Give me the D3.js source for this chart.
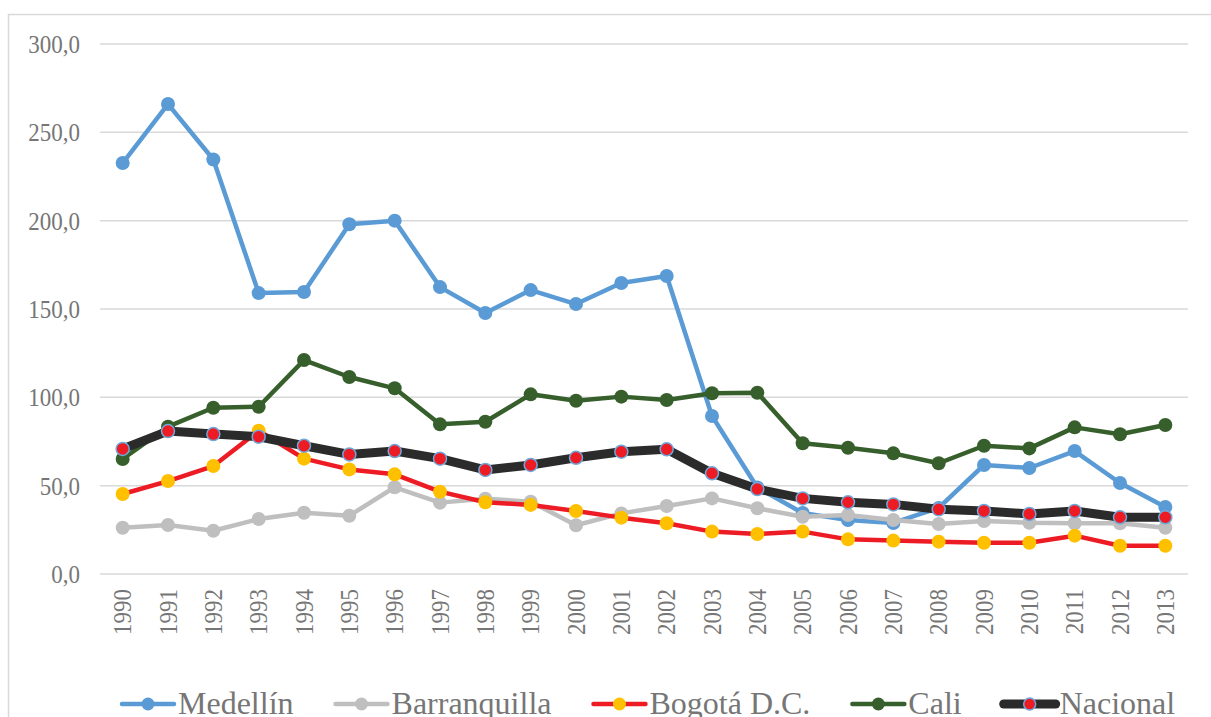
<!DOCTYPE html>
<html>
<head>
<meta charset="utf-8">
<script src="https://cdn.jsdelivr.net/npm/d3@7"></script>
<style>
  body { margin: 0; background: #fff; }
  svg { display: block; }
  svg text { font-family: "Liberation Serif", "Times New Roman", serif; }
</style>
</head>
<body>
<div id="chart"></div>
<script>
const w = 1211;
const h = 717;

const years = [1990, 1991, 1992, 1993, 1994, 1995, 1996, 1997, 1998, 1999, 2000, 2001,
               2002, 2003, 2004, 2005, 2006, 2007, 2008, 2009, 2010, 2011, 2012, 2013];

const medellin = [232.6, 266.0, 234.6, 159.0, 159.6, 198.0, 200.0, 162.4, 147.7, 160.7, 152.8, 164.7,
                  168.7, 89.4, 49.0, 34.5, 30.5, 28.9, 37.4, 61.7, 60.0, 69.6, 51.5, 37.9];
const barranquilla = [26.2, 27.7, 24.5, 31.1, 34.7, 33.0, 49.1, 40.4, 42.6, 40.9, 27.6, 34.3,
                      38.5, 42.8, 37.2, 32.4, 33.4, 30.6, 28.3, 30.0, 29.0, 28.7, 28.7, 26.2];
const bogota = [45.3, 52.6, 61.1, 81.1, 65.3, 59.2, 56.4, 46.6, 40.6, 39.1, 35.7, 31.9,
                28.7, 24.0, 22.6, 24.0, 19.6, 18.9, 18.3, 17.7, 17.7, 21.7, 16.0, 16.0];
const cali = [65.1, 83.4, 94.1, 94.7, 121.1, 111.5, 105.1, 84.7, 86.2, 101.7, 98.1, 100.4,
              98.5, 102.3, 102.6, 74.0, 71.5, 68.3, 62.7, 72.6, 71.1, 83.0, 79.1, 84.3];
const nacional = [70.8, 80.9, 79.2, 77.7, 72.6, 67.7, 69.6, 65.3, 58.9, 61.7, 65.8, 69.2,
                  70.6, 57.0, 48.1, 42.8, 40.6, 39.4, 36.6, 35.7, 34.0, 35.7, 32.1, 32.1];

const yTicks = [0, 50, 100, 150, 200, 250, 300];

const series = [
  { name: "Medellín", values: medellin, line: "#5B9BD5", fill: "#5B9BD5", stroke: "none", lw: 4.5, r: 7 },
  { name: "Barranquilla", values: barranquilla, line: "#BFBFBF", fill: "#BFBFBF", stroke: "none", lw: 4.5, r: 7 },
  { name: "Bogotá D.C.", values: bogota, line: "#ED1C24", fill: "#FFC000", stroke: "none", lw: 4.5, r: 7 },
  { name: "Cali", values: cali, line: "#375F2C", fill: "#375F2C", stroke: "none", lw: 4.5, r: 7 },
  { name: "Nacional", values: nacional, line: "#2B2B2B", fill: "#ED1C24", stroke: "#6FA8DC", lw: 9, r: 6.5 }
];

const textColor = "#767676";
const gridColor = "#D9D9D9";
const serif = "'Liberation Serif', 'Times New Roman', serif";

const plotLeft = 100, plotRight = 1188, plotTop = 44, plotBottom = 574;

let svg = d3.select("#chart").append("svg")
  .attr("width", w)
  .attr("height", h);

// outer frame (right and bottom edges are outside the picture)
svg.append("rect")
  .attr("x", 8.5).attr("y", 14.5)
  .attr("width", 1220).attr("height", 760)
  .attr("fill", "none")
  .attr("stroke", gridColor)
  .attr("stroke-width", 1.5);

let xScale = d3.scaleBand()
  .domain(years)
  .range([plotLeft, plotRight]);

let yScale = d3.scaleLinear()
  .domain([0, 300])
  .range([plotBottom, plotTop]);

const fmt = v => d3.format(".1f")(v).replace(".", ",");

// gridlines
svg.append("g")
  .selectAll("line")
  .data(yTicks)
  .join("line")
  .attr("x1", plotLeft).attr("x2", plotRight)
  .attr("y1", d => yScale(d)).attr("y2", d => yScale(d))
  .attr("stroke", gridColor)
  .attr("stroke-width", 1.5);

// y axis labels
let yAxis = svg.append("g")
  .attr("transform", "translate(80,0)")
  .call(d3.axisLeft(yScale).tickValues(yTicks).tickFormat(fmt).tickSize(0).tickPadding(0));
yAxis.select(".domain").remove();
yAxis.selectAll("text")
  .attr("fill", textColor)
  .attr("font-size", 25)
  .style("font-family", serif)
  .attr("dy", "0.34em")
  .attr("transform", "scale(0.92,1)")
  .attr("x", 0);

// x axis labels
let xAxis = svg.append("g")
  .attr("transform", "translate(0," + plotBottom + ")")
  .call(d3.axisBottom(xScale).tickSize(0).tickPadding(0));
xAxis.select(".domain").remove();
xAxis.selectAll("text")
  .attr("fill", textColor)
  .attr("font-size", 25)
  .style("font-family", serif)
  .attr("text-anchor", "end")
  .attr("y", 0)
  .attr("dy", 0)
  .attr("transform", "translate(8.5,15) rotate(-90) scale(0.92,1)");

let cx = d => xScale(d) + xScale.bandwidth() / 2;

// lines and markers
series.forEach(s => {
  let line = d3.line()
    .x((d, i) => cx(years[i]))
    .y(d => yScale(d));
  let g = svg.append("g");
  g.append("path")
    .attr("d", line(s.values))
    .attr("fill", "none")
    .attr("stroke", s.line)
    .attr("stroke-width", s.lw)
    .attr("stroke-linejoin", "round");
  g.selectAll("circle")
    .data(s.values)
    .join("circle")
    .attr("cx", (d, i) => cx(years[i]))
    .attr("cy", d => yScale(d))
    .attr("r", s.r)
    .attr("fill", s.fill)
    .attr("stroke", s.stroke)
    .attr("stroke-width", 1.5);
});

// legend
let legend = svg.append("g");
let lx = 120;
const ly = 704;
series.forEach(s => {
  let g = legend.append("g").attr("transform", "translate(" + lx + "," + ly + ")");
  g.append("line")
    .attr("x1", 2).attr("x2", 54)
    .attr("y1", 0).attr("y2", 0)
    .attr("stroke", s.line)
    .attr("stroke-width", s.lw)
    .attr("stroke-linecap", "round");
  g.append("circle")
    .attr("cx", 28).attr("cy", 0)
    .attr("r", s.r - 0.5)
    .attr("fill", s.fill)
    .attr("stroke", s.stroke)
    .attr("stroke-width", 1.5);
  let t = g.append("text")
    .attr("x", 58)
    .attr("y", 10)
    .attr("fill", textColor)
    .attr("font-size", 32)
    .style("font-family", serif)
    .text(s.name);
  let tw = t.node().getComputedTextLength();
  lx += 58 + tw + 40;
});
</script>
</body>
</html>
